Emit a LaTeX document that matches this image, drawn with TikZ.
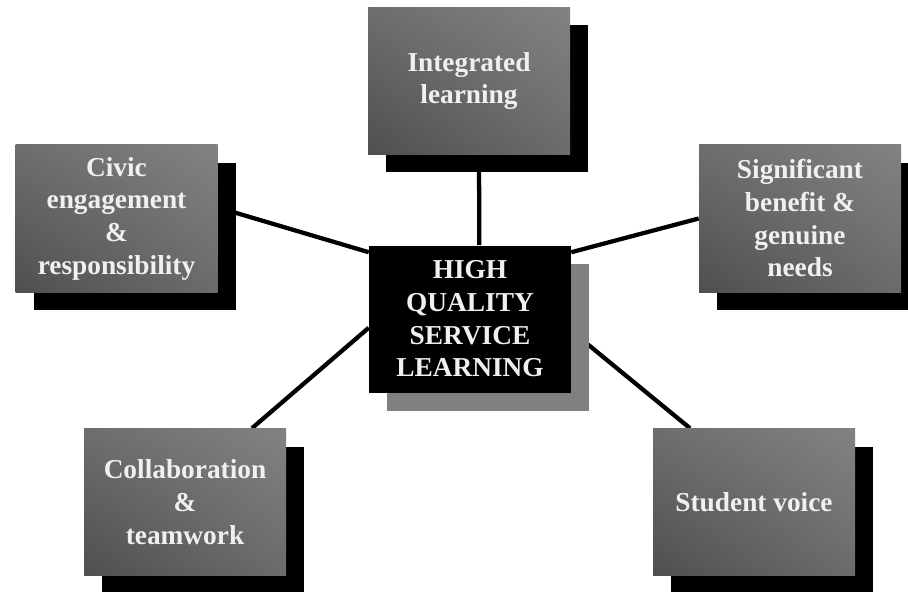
\documentclass[tikz,border=0pt]{standalone}
\usepackage{fontspec}
\setmainfont{Liberation Serif}
\usetikzlibrary{shadows}
\usetikzlibrary{shadings}
\usetikzlibrary{backgrounds}

\tikzset{
    boxbase/.style = {minimum width = 151.5pt, minimum height = 110.25pt, inner sep = 0pt,
        align = center, text = white!94!black, font = \bfseries\fontsize{20.5}{24.5}\selectfont},
    pillar/.style = {boxbase,
        upper left = black!57, upper right = black!49, lower left = black!69, lower right = black!58,
        drop shadow = {shadow xshift = 13.5pt, shadow yshift = -13.5pt, fill = black, opacity = 1}},
    hubbox/.style = {boxbase, fill = black,
        drop shadow = {shadow xshift = 13.5pt, shadow yshift = -13.5pt, fill = black!50, opacity = 1}},
    spoke/.style = {line width = 3.2pt, black}
}

\begin{document}
\begin{tikzpicture}[x = 0.75pt, y = -0.75pt]
        \clip (0, 0) rectangle (908, 592);

        \node[hubbox] (hub) at (470, 319) {HIGH\\QUALITY\\SERVICE\\LEARNING};

        \node[pillar] (integ) at (469, 81) {Integrated\\learning};
        \node[pillar] (civic) at (116.5, 218.5) {Civic\\engagement\\\&\\responsibility};
        \node[pillar] (signif) at (800, 218.5) {Significant\\benefit \&\\genuine\\needs};
        \node[pillar] (collab) at (185, 502) {Collaboration\\\&\\teamwork};
        \node[pillar] (voice) at (754, 502) {Student voice};

        \begin{scope}[on background layer]
            \draw[spoke] ([xshift = 7pt]hub.north) -- ([xshift = 7.5pt]integ.south);
            \draw[spoke] ([yshift = -5.25pt]hub.north west) -- ([yshift = 8.25pt]civic.east);
            \draw[spoke] ([yshift = -5.25pt]hub.north east) -- (signif.west);
            \draw[spoke] ([yshift = 48.75pt]hub.south west) -- ([xshift = 50.25pt]collab.north);
            \draw[spoke] ([yshift = 46.5pt]hub.south east) -- ([xshift = -48pt]voice.north);
        \end{scope}
\end{tikzpicture}
\end{document}
